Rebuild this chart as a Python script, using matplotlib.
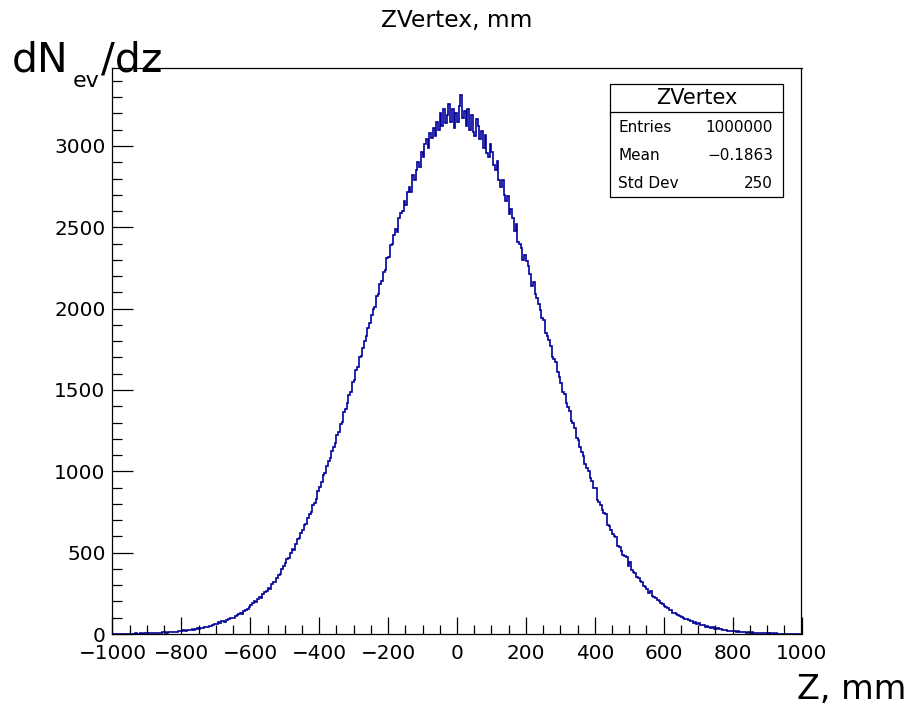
import numpy as np
import matplotlib
matplotlib.use("Agg")
import matplotlib.pyplot as plt
from matplotlib.patches import Rectangle
from matplotlib.lines import Line2D
from matplotlib.ticker import MultipleLocator

plt.rcParams['font.family'] = ['DejaVu Sans']

z_range = [-1000, 1000]
counts_neg = [1, 0, 1, 2, 1, 1, 2, 3, 1, 2, 2, 3, 2, 4, 3, 2, 5, 3, 4, 6,
              5, 4, 7, 5, 6, 8, 7, 9, 8, 11, 10, 9, 13, 11, 12, 15, 14, 13, 17, 18,
              18, 22, 20, 24, 25, 23, 29, 27, 31, 34, 33, 38, 36, 42, 44, 41, 49, 51, 53, 60,
              64, 71, 70, 78, 80, 76, 88, 92, 96, 101, 98, 112, 115, 120, 128, 124, 140, 146, 151, 168,
              180, 192, 201, 197, 218, 228, 224, 247, 258, 266, 282, 279, 305, 321, 318, 345, 360, 371, 402, 418,
              436, 462, 470, 498, 522, 516, 552, 585, 590, 618, 640, 668, 676, 712, 738, 752, 790, 808, 832, 880,
              905, 932, 978, 990, 1030, 1065, 1080, 1128, 1150, 1172, 1225, 1240, 1290, 1305, 1362, 1385, 1420, 1468, 1490, 1552,
              1560, 1620, 1640, 1700, 1710, 1760, 1800, 1830, 1880, 1910, 1960, 1995, 2010, 2080, 2090, 2150, 2170, 2225, 2240, 2310,
              2320, 2390, 2400, 2450, 2490, 2470, 2560, 2590, 2600, 2660, 2640, 2720, 2750, 2720, 2820, 2790, 2850, 2900, 2870, 2960,
              2930, 3010, 3040, 2990, 3080, 3050, 3110, 3060, 3150, 3100, 3200, 3120, 3230, 3140, 3190, 3260, 3150, 3230, 3110, 3200]
counts_pos = [3150, 3245, 3312, 3170, 3215, 3120, 3230, 3100, 3190, 3085, 3060, 3165, 3120, 3045, 3095, 2990, 3065, 2955, 2935, 3010,
              2960, 2885, 2850, 2910, 2790, 2745, 2790, 2700, 2660, 2690, 2580, 2610, 2555, 2480, 2520, 2410, 2395, 2375, 2300, 2330,
              2290, 2265, 2215, 2140, 2165, 2090, 2065, 2030, 1990, 1940, 1930, 1848, 1835, 1805, 1770, 1700, 1690, 1672, 1610, 1580,
              1545, 1490, 1478, 1420, 1395, 1372, 1310, 1296, 1268, 1205, 1190, 1148, 1118, 1092, 1045, 1022, 1002, 958, 941, 896,
              898, 822, 812, 795, 761, 742, 735, 668, 664, 641, 612, 601, 594, 538, 532, 512, 488, 478, 476, 421,
              441, 395, 382, 374, 352, 346, 326, 318, 297, 291, 276, 255, 262, 236, 230, 222, 208, 204, 188, 185,
              172, 168, 158, 145, 149, 131, 129, 126, 116, 112, 104, 101, 95, 92, 84, 82, 81, 68, 73, 61,
              66, 55, 53, 54, 46, 48, 43, 38, 41, 33, 31, 35, 29, 30, 26, 23, 26, 20, 19, 21,
              16, 19, 14, 17, 15, 11, 12, 13, 9, 12, 8, 10, 9, 6, 7, 8, 5, 7, 6, 4,
              5, 3, 4, 5, 2, 4, 3, 2, 3, 1, 2, 3, 1, 2, 2, 1, 0, 2, 1, 1]
counts = counts_neg + counts_pos
x_ticks = [-1000, -800, -600, -400, -200, 0, 200, 400, 600, 800, 1000]
y_ticks = [0, 500, 1000, 1500, 2000, 2500, 3000]
stats_labels = ["Entries", "Mean", "Std Dev"]
stats_values = ["1000000", "\u22120.1863", "250"]

W, H = 912, 706
fig = plt.figure(figsize=(W / 100, H / 100), dpi=100)

def fx(px):
    return px / W

def fy(py):
    return 1 - py / H

ax = fig.add_axes([fx(112.5), fy(634), fx(801.5) - fx(112.5), fy(68.3) - fy(634)])
edges = np.linspace(z_range[0], z_range[1], len(counts) + 1)
ax.stairs(counts, edges, color='#000099', lw=1.2)
ax.set_xlim(*z_range)
ax.set_ylim(0, 1.05 * max(counts))

ax.set_xticks(x_ticks)
ax.set_yticks(y_ticks)
ax.xaxis.set_minor_locator(MultipleLocator(50))
ax.yaxis.set_minor_locator(MultipleLocator(100))
ax.tick_params(axis='x', which='major', direction='in', length=12, width=0.9,
               labelsize=14.4, pad=7)
ax.tick_params(axis='x', which='minor', direction='in', length=6.5, width=0.9)
ax.tick_params(axis='y', which='major', direction='in', length=15, width=0.9,
               labelsize=14.4, pad=5)
ax.tick_params(axis='y', which='minor', direction='in', length=7, width=0.9)
for s in ax.spines.values():
    s.set_linewidth(0.9)

# title and axis titles
fig.text(fx(457), fy(20), 'ZVertex, mm', ha='center', va='center', fontsize=16.8)
fig.text(fx(12), fy(71.5), 'dN', ha='left', va='baseline', fontsize=29.5)
fig.text(fx(73), fy(87), 'ev', ha='left', va='baseline', fontsize=16)
fig.text(fx(101), fy(71.5), '/dz', ha='left', va='baseline', fontsize=29.5)
fig.text(fx(906), fy(699), 'Z, mm', ha='right', va='baseline', fontsize=24)

# stats box
bx0, by0, bx1, by1 = 610, 84, 783, 197
fig.patches.append(Rectangle((fx(bx0), fy(by1)), fx(bx1) - fx(bx0), fy(by0) - fy(by1),
                             transform=fig.transFigure, facecolor='white',
                             edgecolor='black', lw=0.9, zorder=5))
fig.lines.append(Line2D([fx(bx0), fx(bx1)], [fy(112), fy(112)],
                        transform=fig.transFigure, color='black', lw=0.9, zorder=6))
fig.text(fx((bx0 + bx1) / 2), fy(98.5), 'ZVertex', ha='center', va='center',
         fontsize=15, zorder=7)
row_y = [127.5, 155.5, 183.5]
for lab, val, yy in zip(stats_labels, stats_values, row_y):
    fig.text(fx(618), fy(yy), lab, ha='left', va='center', fontsize=11, zorder=7)
    fig.text(fx(773), fy(yy), val, ha='right', va='center', fontsize=11, zorder=7)

fig.savefig('out.png', dpi=100)
